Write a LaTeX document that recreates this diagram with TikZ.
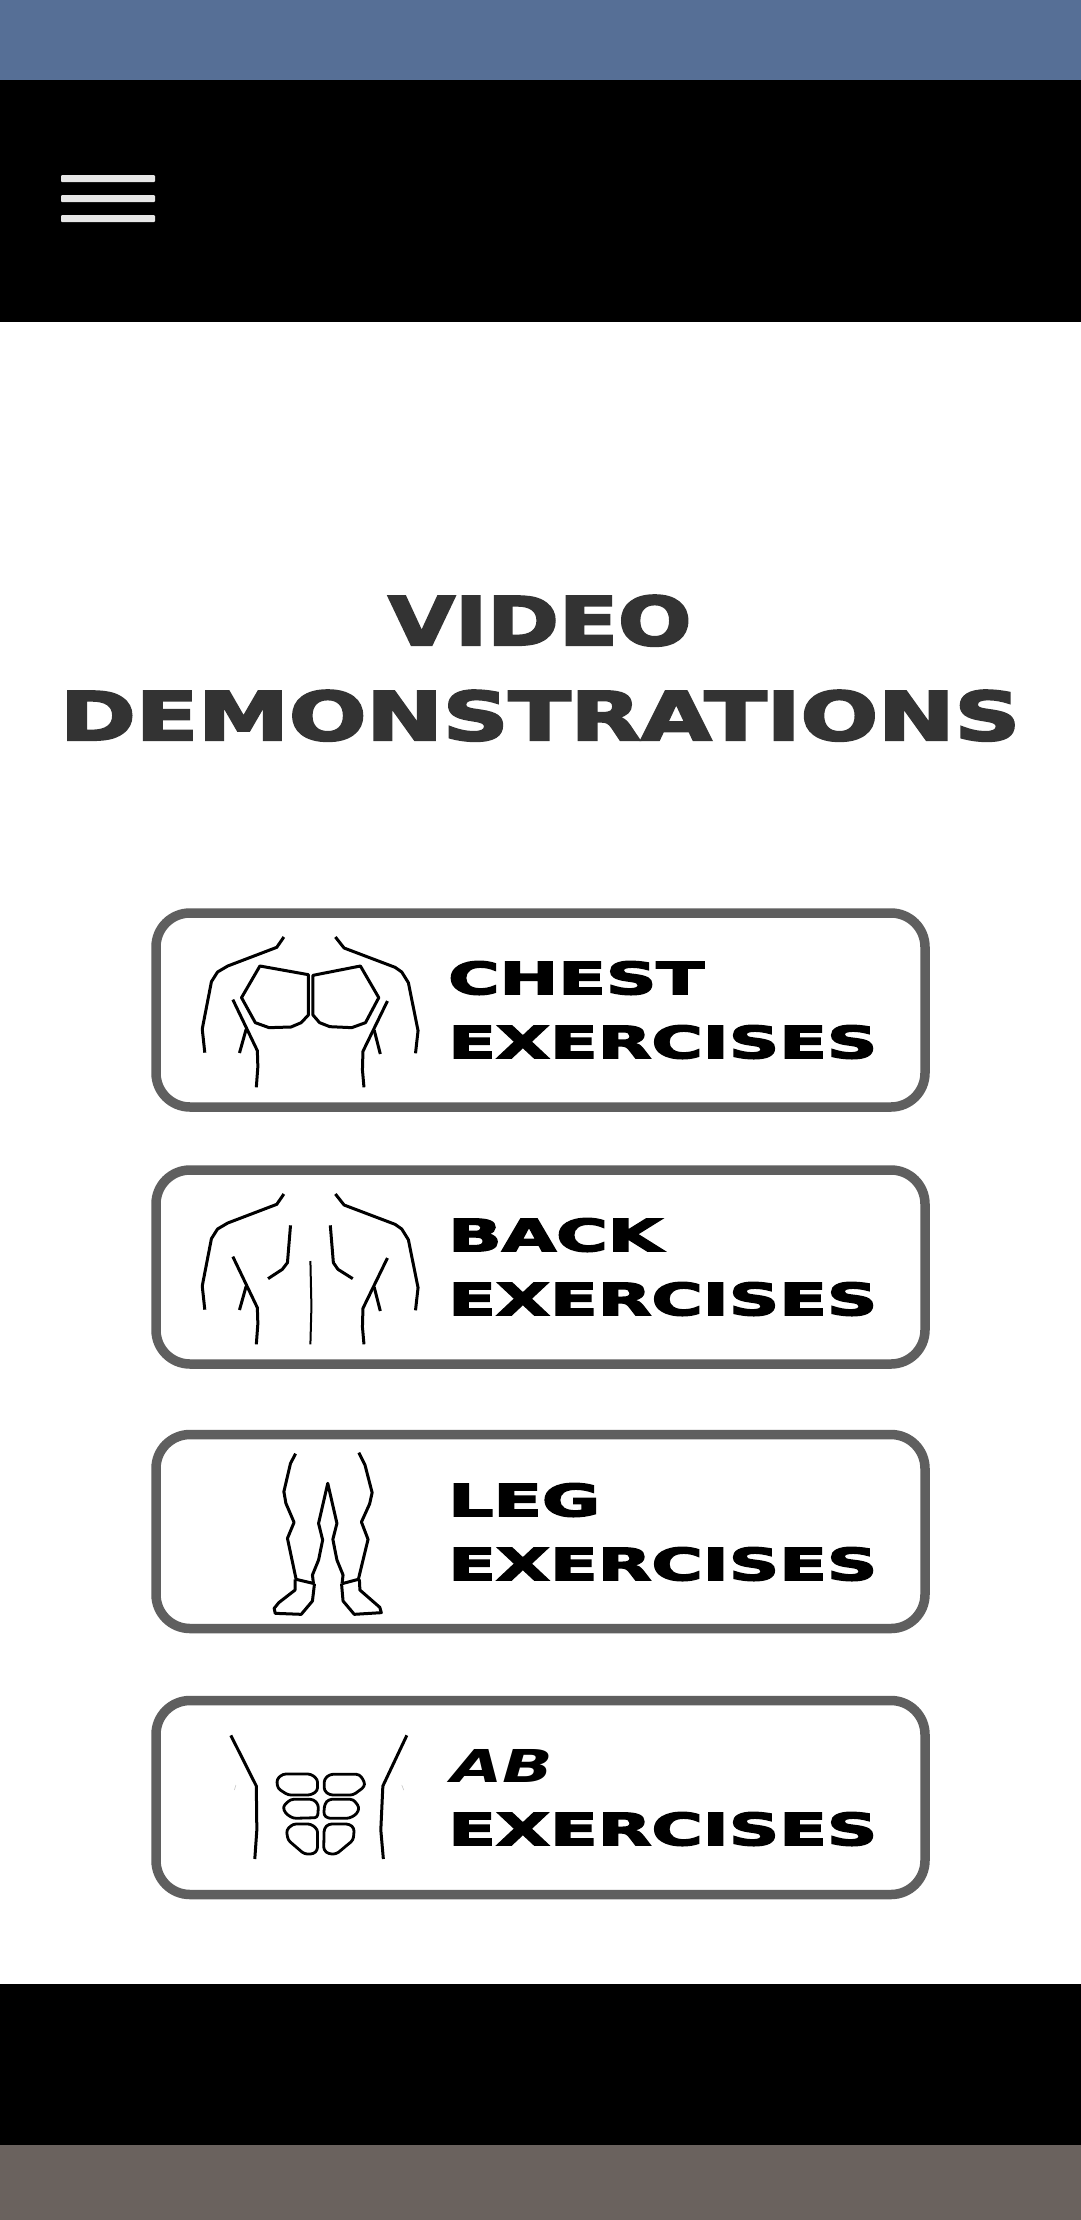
\documentclass[tikz,border=0pt]{standalone}
\usepackage{fontspec}
\setmainfont{DejaVu Sans}[BoldFeatures={FakeBold=3}]
\usepackage{xcolor}
\usetikzlibrary{positioning}

\definecolor{topblue}{HTML}{566F96}
\definecolor{footgrey}{HTML}{6A625E}
\definecolor{barwhite}{HTML}{E6E6E6}
\definecolor{titledark}{HTML}{333333}
\definecolor{rimgrey}{HTML}{5F5F5F}

%% squeeze a label to the size it has on the screen
\newcommand{\fitlabel}[3]{\resizebox{#1pt}{#2pt}{\bfseries #3}}

%% shoulders, arms and flanks shared by chest and back
\newcommand{\drawtorso}{
	\draw[icon] (282,141) -- (268,172) -- (172,228) -- (152,246) -- (140,275) -- (122,417) -- (127,488);
	\draw[icon] (383,141) -- (400,174) -- (500,232) -- (513,246) -- (526,278) -- (545,422) -- (540,490);
	\draw[icon] (182,329) -- (230,482) -- (231,530) -- (228,592);
	\draw[icon] (208,418) -- (195,489);
	\draw[icon] (485,333) -- (437,484) -- (436,540) -- (439,592);
	\draw[icon] (459,420) -- (471,492);
}

\begin{document}
\begin{tikzpicture}[x=1pt,y=-1pt]
	\edef\sizebuttonw{769pt}
	\edef\sizebuttonh{194pt}
	\tikzstyle{exbutton}=[draw=rimgrey,line width=9.5pt,rounded corners=34pt,minimum width=\sizebuttonw,minimum height=\sizebuttonh,inner sep=0pt]
	\tikzstyle{btnlabel}=[anchor=north west,inner sep=0pt,black]
	\tikzstyle{headline}=[anchor=north west,inner sep=0pt,titledark]
	\tikzstyle{icon}=[black,line width=3pt,line join=round]
	\tikzstyle{absblock}=[icon,line width=2.8pt,rounded corners=3pt]
	\useasboundingbox (0,0) rectangle (1080,2220);

	%% Bands of the screen
	\fill[white] (0,0) rectangle (1082,2222);
	\fill[topblue] (0,0) rectangle (1082,80);
	\fill[black] (0,80) rectangle (1082,322);
	\fill[black] (0,1984) rectangle (1082,2145);
	\fill[footgrey] (0,2145) rectangle (1082,2222);

	%% Menu bars
	\foreach \bary in {175,195,215}
		\fill[barwhite,rounded corners=1pt] (61,\bary) rectangle (155,\bary+7);

	%% Title
	\node [headline] (videoline) at (388,595) {\fitlabel{303}{50}{VIDEO}};
	\node [headline] (demoline) at (60,690) {\fitlabel{960}{50}{DEMONSTRATIONS}};

	%% Buttons
	\node [exbutton] (chestbtn) at (540.5,1010) {};
	\node [exbutton] (backbtn) at (540.5,1267) {};
	\node [exbutton] (legbtn) at (540.5,1531.5) {};
	\node [exbutton] (abbtn) at (540.5,1797.5) {};

	\node [btnlabel] (chesttop) at (448,961) {\fitlabel{256}{33}{CHEST}};
	\node [btnlabel] (chestlow) at (448,1025) {\fitlabel{429}{33}{EXERCISES}};
	\node [btnlabel] (backtop) at (448,1218) {\fitlabel{214}{33}{BACK}};
	\node [btnlabel] (backlow) at (448,1282) {\fitlabel{429}{33}{EXERCISES}};
	\node [btnlabel] (legtop) at (448,1483) {\fitlabel{152}{33}{LEG}};
	\node [btnlabel] (leglow) at (448,1547) {\fitlabel{429}{33}{EXERCISES}};
	\node [btnlabel] (abtop) at (451,1749) {\fitlabel{102}{33}{\itshape AB}};
	\node [btnlabel] (ablow) at (448,1812) {\fitlabel{429}{33}{EXERCISES}};

	%% Chest icon
	\begin{scope}[shift={(140pt,-890pt)},x=0.5102pt,y=-0.3333pt]
		\drawtorso
		\draw[icon] (330,254) -- (235,228) -- (199,323) -- (226,398) -- (253,413) -- (296,411) -- (316,398) -- (330,375) -- cycle;
		\draw[icon] (339,256) -- (432,228) -- (468,323) -- (442,398) -- (415,413) -- (372,410) -- (352,398) -- (339,375) -- cycle;
	\end{scope}

	%% Back icon
	\begin{scope}[shift={(140pt,-1147pt)},x=0.5102pt,y=-0.3333pt]
		\drawtorso
		\draw[icon] (295,235) -- (289,347) -- (279,367) -- (251,395);
		\draw[icon] (373,235) -- (379,347) -- (388,367) -- (417,395);
		\draw[icon,line width=2pt] (334,342) -- (336,479) -- (334,592);
	\end{scope}

	%% Leg icon
	\begin{scope}[shift={(140pt,-1420pt)},x=0.5102pt,y=-0.3333pt]
		\draw[icon] (305,101) -- (295,130) -- (282,215) -- (286,250) -- (302,307) -- (289,355) -- (306,478) -- (342,491);
		\draw[icon] (304,478) -- (304,510) -- (272,548) -- (263,565) -- (265,580) -- (316,583) -- (338,543) -- (342,491);
		\draw[icon] (340,491) -- (338,465) -- (350,420) -- (358,360) -- (350,310) -- (368,190) -- (386,310) -- (378,358) -- (386,420) -- (398,465) -- (396,491);
		\draw[icon] (429,98) -- (441,135) -- (455,218) -- (450,252) -- (434,306) -- (447,358) -- (428,478) -- (396,491);
		\draw[icon] (430,478) -- (431,510) -- (470,562) -- (473,578) -- (420,583) -- (398,543) -- (395,491);
	\end{scope}

	%% Ab icon
	\begin{scope}[shift={(140pt,-1680pt)},x=0.5102pt,y=-0.3333pt]
		\draw[icon] (178,166) -- (228,318) -- (229,450) -- (225,537);
		\draw[icon] (523,166) -- (476,318) -- (472,450) -- (477,537);
		\draw[gray!50,line width=0.5pt] (188,315) -- (185,330);
		\draw[gray!50,line width=0.5pt] (513,315) -- (517,330);
		\draw[absblock] (280,282) -- (335,282) -- (348,298) -- (348,332) -- (335,345) -- (290,345) -- (270,325) -- (268,298) -- cycle;
		\draw[absblock] (372,283) -- (430,283) -- (440,305) -- (440,320) -- (418,345) -- (372,345) -- (361,332) -- (361,298) -- cycle;
		\draw[absblock] (295,358) -- (340,358) -- (350,375) -- (348,413) -- (300,415) -- (285,400) -- (280,380) -- cycle;
		\draw[absblock] (370,358) -- (418,358) -- (430,382) -- (425,402) -- (410,415) -- (368,415) -- (360,405) -- (362,372) -- cycle;
		\draw[absblock] (300,432) -- (335,432) -- (348,448) -- (348,510) -- (340,522) -- (322,522) -- (290,480) -- (287,450) -- cycle;
		\draw[absblock] (370,432) -- (410,432) -- (420,445) -- (418,480) -- (385,522) -- (370,522) -- (360,510) -- (361,445) -- cycle;
	\end{scope}
\end{tikzpicture}
\end{document}
